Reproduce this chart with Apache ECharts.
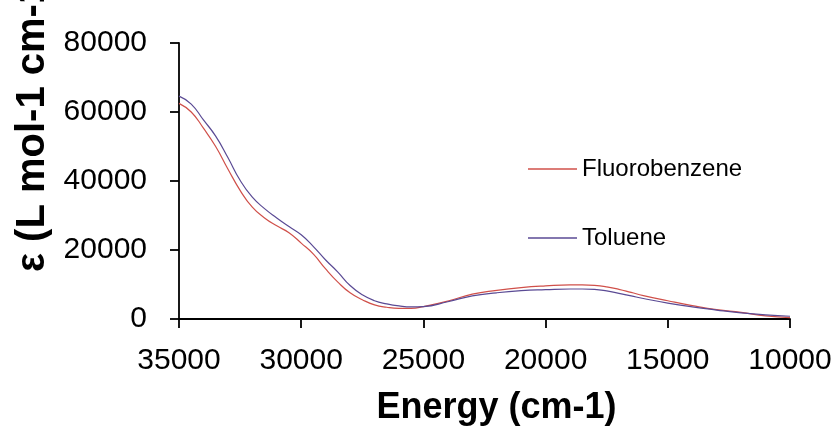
<!DOCTYPE html>
<html>
<head>
<meta charset="utf-8">
<script src="https://cdn.jsdelivr.net/npm/echarts@6/dist/echarts.min.js"></script>
<style>
  html, body { margin: 0; padding: 0; background: #fff; overflow: hidden; }
  #chart { width: 839px; height: 431px; }
</style>
</head>
<body>
<div id="chart"></div>
<script>
// Absorption spectra: molar absorptivity vs. energy in two solvents
const energy = [35000, 34500, 34000, 33500, 33000, 32500, 32000, 31500, 31000, 30500,
                30000, 29500, 29000, 28500, 28000, 27500, 27000, 26500, 26000, 25500,
                25000, 24000, 23000, 22000, 21000, 20000, 19000, 18500, 18000, 17500,
                17000, 16500, 16000, 15000, 14000, 13000, 12000, 11000, 10000];

const fluorobenzene = [62500, 60000, 55300, 50000, 43500, 37300, 32400, 29300, 27000, 25000,
                       22000, 18800, 14500, 10700, 7600, 5600, 4100, 3400, 3100, 3100,
                       3600, 5200, 7200, 8300, 9100, 9600, 9900, 9900, 9750, 9300,
                       8600, 7700, 6800, 5300, 3900, 2700, 1900, 900, 400];

const toluene = [64600, 62300, 57700, 53000, 46800, 40200, 35300, 32000, 29300, 26800,
                 24400, 21000, 17100, 13600, 9700, 7000, 5300, 4400, 3800, 3500,
                 3600, 5000, 6700, 7600, 8200, 8500, 8700, 8700, 8600, 8150,
                 7450, 6700, 5950, 4600, 3500, 2600, 1800, 1200, 800];

const seriesNames = ['Fluorobenzene', 'Toluene'];
const seriesColors = ['#d0504a', '#5a4a94'];
const xTickStep = 5000;
const yTickStep = 20000;

const FONT = "'Liberation Sans', Arial, sans-serif";

function pairs(xs, ys) {
  return xs.map((x, i) => [x, ys[i]]);
}

const plainNumber = v => String(v);

const chart = echarts.init(document.getElementById('chart'), null, { renderer: 'canvas', width: 839, height: 431 });

chart.setOption({
  animation: false,
  backgroundColor: '#ffffff',
  grid: { left: 179, top: 43, width: 611, height: 279, containLabel: false },
  xAxis: {
    type: 'value',
    inverse: true,
    min: 10000,
    max: 35000,
    interval: xTickStep,
    name: 'Energy (cm-1)',
    nameLocation: 'middle',
    nameGap: 71,
    nameTextStyle: { fontFamily: FONT, fontSize: 36, fontWeight: 'bold', color: '#000', padding: [0, 0, 0, 24] },
    axisLine: { show: true, onZero: false, lineStyle: { color: '#000', width: 1.8 } },
    axisTick: { show: true, inside: false, length: 9, lineStyle: { color: '#000', width: 1.8 } },
    axisLabel: { margin: 27, fontFamily: FONT, fontSize: 30, color: '#000', formatter: plainNumber },
    splitLine: { show: false }
  },
  yAxis: {
    type: 'value',
    min: 0,
    max: 80000,
    interval: yTickStep,
    axisLine: { show: true, lineStyle: { color: '#000', width: 1.8 } },
    axisTick: { show: true, inside: false, length: 9, lineStyle: { color: '#000', width: 1.8 } },
    axisLabel: { margin: 32, fontFamily: FONT, fontSize: 30, color: '#000', formatter: plainNumber },
    splitLine: { show: false }
  },
  legend: {
    orient: 'vertical',
    left: 528,
    top: 157,
    padding: 0,
    itemWidth: 49,
    itemHeight: 1.5,
    itemGap: 45,
    icon: 'rect',
    data: seriesNames,
    textStyle: { fontFamily: FONT, fontSize: 24, color: '#000', lineHeight: 24 }
  },
  graphic: [{
    type: 'text',
    x: 33,
    y: 272,
    rotation: Math.PI / 2,
    style: {
      text: 'ε (L mol-1 cm-1)',
      fontFamily: FONT,
      fontSize: 40,
      fontWeight: 'bold',
      fill: '#000',
      textAlign: 'left',
      textVerticalAlign: 'middle'
    }
  }],
  series: [
    {
      name: seriesNames[0],
      type: 'line',
      data: pairs(energy, fluorobenzene),
      smooth: 0.5,
      showSymbol: false,
      lineStyle: { color: seriesColors[0], width: 1.2 },
      itemStyle: { color: seriesColors[0] }
    },
    {
      name: seriesNames[1],
      type: 'line',
      data: pairs(energy, toluene),
      smooth: 0.5,
      showSymbol: false,
      lineStyle: { color: seriesColors[1], width: 1.2 },
      itemStyle: { color: seriesColors[1] }
    }
  ]
});
</script>
</body>
</html>
